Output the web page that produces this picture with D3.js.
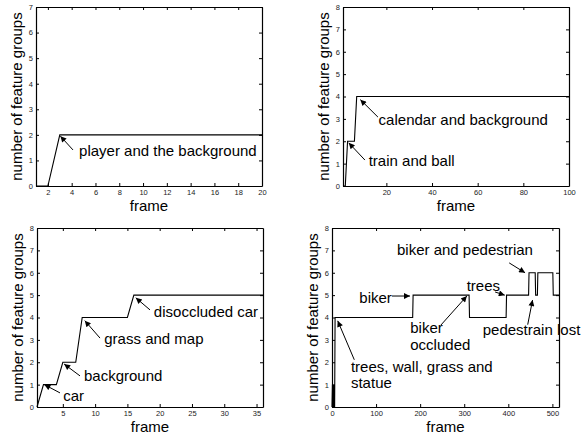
<!DOCTYPE html>
<html>
<head>
<meta charset="utf-8">
<title>Number of feature groups per frame</title>
<script src="https://cdn.jsdelivr.net/npm/d3@7"></script>
<style>
  body { margin: 0; background: #fff; }
  text { font-family: "Liberation Sans", Arial, Helvetica, sans-serif; font-weight: normal; }
  .tick text { font-size: 7.5px; fill: #222; }
  .domain, .tick line { stroke: #000; }
</style>
</head>
<body>
<script>
    var W = 582, H = 435;

    // data
    var frames1 = [1, 2, 3, 20];
    var groups1 = [0, 0, 2, 2];
    var xTicks1 = [2, 4, 6, 8, 10, 12, 14, 16, 18, 20];

    var frames2 = [1, 2, 3, 6, 7, 100];
    var groups2 = [0, 0, 2, 2, 4, 4];
    var xTicks2 = [20, 40, 60, 80, 100];

    var frames3 = [1, 2, 4, 5, 7, 8, 15, 16, 36];
    var groups3 = [0, 1, 1, 2, 2, 4, 4, 5, 5];
    var xTicks3 = [5, 10, 15, 20, 25, 30, 35];

    var frames4 = [0, 1, 2, 3, 4, 5, 6, 7, 183, 184, 311, 312, 395, 396, 446, 447, 461, 462, 466, 467, 501, 502, 515];
    var groups4 = [0, 1, 0, 1, 0, 1, 0, 4, 4, 5, 5, 4, 4, 5, 5, 6, 6, 5, 5, 6, 6, 5, 5];
    var xTicks4 = [0, 100, 200, 300, 400, 500];

    // annotations: text lines, where the text starts, arrow tail and tip (data units)
    var notes1 = [
        {lines: ['player and the background'], at: [4.62, 1.17], from: [4.11, 1.41], to: [3.05, 1.95]}
    ];
    var notes2 = [
        {lines: ['calendar and background'], at: [16.6, 2.73], from: [16.3, 3.08], to: [8.6, 3.86]},
        {lines: ['train and ball'], at: [12.26, 0.89], from: [10.6, 1.16], to: [3.5, 1.93]}
    ];
    var notes3 = [
        {lines: ['car'], at: [5.07, 0.28], from: [4.56, 0.63], to: [2.15, 1.0]},
        {lines: ['background'], at: [8.28, 1.15], from: [7.66, 1.39], to: [5.2, 1.92]},
        {lines: ['grass and map'], at: [11.42, 2.82], from: [10.76, 3.08], to: [8.4, 3.86]},
        {lines: ['disoccluded car'], at: [19.1, 4.04], from: [18.5, 4.34], to: [16.3, 4.88]}
    ];
    var notes4 = [
        {lines: ['biker'], at: [62, 4.65], from: [136, 4.96], to: [177, 4.96]},
        {lines: ['biker', 'occluded'], at: [177.6, 3.29], from: [247, 3.66], to: [306, 4.96]},
        {lines: ['trees'], at: [305.6, 5.2], from: [370, 5.14], to: [392, 5.0]},
        {lines: ['biker and pedestrian'], at: [147.5, 6.81], from: [402, 6.44], to: [438, 6.0]},
        {lines: ['pedestrain lost'], at: [342, 3.2], from: [444, 3.68], to: [455, 4.78]},
        {lines: ['trees, wall, grass and', 'statue'], at: [43, 1.56], from: [50.6, 2.11], to: [13, 3.85]}
    ];

    var panels = [
        {left: 36, right: 262, top: 7, bottom: 186, xDomain: [1, 20], yMax: 7,
            xTicks: xTicks1, frames: frames1, groups: groups1, notes: notes1},
        {left: 343, right: 569, top: 7, bottom: 186, xDomain: [1, 100], yMax: 8,
            xTicks: xTicks2, frames: frames2, groups: groups2, notes: notes2},
        {left: 37, right: 263, top: 228, bottom: 407, xDomain: [1, 36], yMax: 8,
            xTicks: xTicks3, frames: frames3, groups: groups3, notes: notes3},
        {left: 332, right: 559, top: 228, bottom: 407, xDomain: [0, 515], yMax: 8,
            xTicks: xTicks4, frames: frames4, groups: groups4, notes: notes4}
    ];

    var svg = d3.select('body')
            .append('svg')
            .attr('width', W)
            .attr('height', H);

    svg.append('defs').append('marker')
            .attr('id', 'head')
            .attr('markerUnits', 'userSpaceOnUse')
            .attr('viewBox', '0 0 10 10')
            .attr('refX', 10)
            .attr('refY', 5)
            .attr('markerWidth', 8)
            .attr('markerHeight', 6)
            .attr('orient', 'auto')
            .append('path')
            .attr('d', 'M0,0L10,5L0,10Z')
            .attr('fill', '#000');

    var intFmt = d3.format('d');

    panels.forEach(function (p) {
        var x = d3.scaleLinear().domain(p.xDomain).range([p.left, p.right]);
        var y = d3.scaleLinear().domain([0, p.yMax]).range([p.bottom, p.top]);
        var yTicks = d3.range(0, p.yMax + 1);

        var g = svg.append('g');

        // MATLAB-style box with inward ticks on all four sides
        g.append('g')
                .attr('transform', 'translate(0,' + p.bottom + ')')
                .call(d3.axisBottom(x).tickValues(p.xTicks).tickFormat(intFmt)
                        .tickSizeInner(-3).tickSizeOuter(0).tickPadding(4));
        g.append('g')
                .attr('transform', 'translate(0,' + p.top + ')')
                .call(d3.axisTop(x).tickValues(p.xTicks).tickSizeInner(-3).tickSizeOuter(0).tickFormat(''));
        g.append('g')
                .attr('transform', 'translate(' + p.left + ',0)')
                .call(d3.axisLeft(y).tickValues(yTicks).tickFormat(intFmt)
                        .tickSizeInner(-3).tickSizeOuter(0).tickPadding(3));
        g.append('g')
                .attr('transform', 'translate(' + p.right + ',0)')
                .call(d3.axisRight(y).tickValues(yTicks).tickSizeInner(-3).tickSizeOuter(0).tickFormat(''));

        g.selectAll('.domain').attr('stroke-width', 1.2);

        var line = d3.line()
                .x(function (d) { return x(d[0]); })
                .y(function (d) { return y(d[1]); });

        g.append('path')
                .datum(d3.zip(p.frames, p.groups))
                .attr('d', line)
                .attr('fill', 'none')
                .attr('stroke', '#000')
                .attr('stroke-width', 1.1);

        g.append('text')
                .attr('x', (p.left + p.right) / 2)
                .attr('y', p.bottom + 25)
                .attr('text-anchor', 'middle')
                .attr('font-size', 15)
                .text('frame');

        g.append('text')
                .attr('transform', 'translate(' + (p.left - 14) + ',' + ((p.top + p.bottom) / 2) + ') rotate(-90)')
                .attr('text-anchor', 'middle')
                .attr('font-size', 15)
                .text('number of feature groups');

        p.notes.forEach(function (n) {
            g.append('line')
                    .attr('x1', x(n.from[0])).attr('y1', y(n.from[1]))
                    .attr('x2', x(n.to[0])).attr('y2', y(n.to[1]))
                    .attr('stroke', '#000')
                    .attr('stroke-width', 1)
                    .attr('marker-end', 'url(#head)');
            var t = g.append('text')
                    .attr('x', x(n.at[0]))
                    .attr('y', y(n.at[1]))
                    .attr('font-size', 15);
            n.lines.forEach(function (s, i) {
                t.append('tspan')
                        .attr('x', x(n.at[0]))
                        .attr('dy', i === 0 ? 0 : 16.4)
                        .text(s);
            });
        });
    });
</script>
</body>
</html>
